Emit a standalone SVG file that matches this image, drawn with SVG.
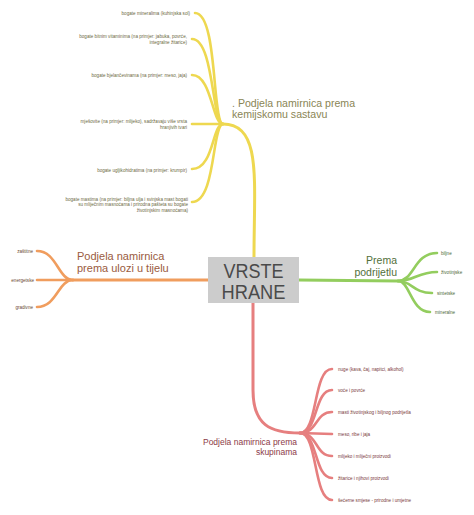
<svg xmlns="http://www.w3.org/2000/svg" width="474" height="515" viewBox="0 0 474 515">
<style>
text{font-family:"Liberation Sans",Arial,sans-serif}
.ln{fill:none;stroke-linecap:round;stroke-linejoin:round}
.y{stroke:#eed850}.o{stroke:#f09d5e}.g{stroke:#93cd5e}.r{stroke:#e67f7f}
.t{stroke-width:3}.b{stroke-width:2.6}
.s{font-size:4.6px}
.sy{fill:#6e6a44}.so{fill:#6b4a33}.sg{fill:#4f6b3a}.sr{fill:#7a3b3b}
.e{text-anchor:end}
</style>
<rect width="474" height="515" fill="#ffffff"/>
<g id="connectors">
<path class="ln y t" d="M254 257 C254 180 262 124 223 124"/>
<path class="ln y b" d="M223 124 C212 124 218 13 195 13"/>
<path class="ln y b" d="M223 124 C212 124 214 39 192 39"/>
<path class="ln y b" d="M223 124 C212 124 212 75 192 75"/>
<path class="ln y b" d="M223 124 L192 124"/>
<path class="ln y b" d="M223 124 C212 124 214 169 192 169"/>
<path class="ln y b" d="M223 124 C212 124 216 202 192 202"/>
<path class="ln o t" d="M208 280 L73 280"/>
<path class="ln o b" d="M73 280 C58 280 57 251 37 251"/>
<path class="ln o b" d="M73 280 L37 280"/>
<path class="ln o b" d="M73 280 C58 280 57 307 37 307"/>
<path class="ln g t" d="M299 280 L398 281"/>
<path class="ln g b" d="M398 281 C414 281 414 253 437 253"/>
<path class="ln g b" d="M398 281 C414 281 418 272 437 272"/>
<path class="ln g b" d="M398 281 C412 281 413 293 432 293"/>
<path class="ln g b" d="M398 281 C410 281 411 312 430 312"/>
<path class="ln r t" d="M253 303 L253 390 C253 425 270 433 300 433"/>
<path class="ln r b" d="M300 433 C318 433 313 369 332 369"/>
<path class="ln r b" d="M300 433 C318 433 314 390 332 390"/>
<path class="ln r b" d="M300 433 C318 433 315 412 332 412"/>
<path class="ln r b" d="M300 433 L332 434"/>
<path class="ln r b" d="M300 433 C318 433 315 456 332 456"/>
<path class="ln r b" d="M300 433 C318 433 314 478 332 478"/>
<path class="ln r b" d="M300 433 C318 433 313 500 332 500"/>
</g>
<g id="center">
<rect x="208" y="257" width="91" height="46" fill="#cccccc"/>
<text x="253.5" y="277.5" font-size="20" fill="#4a4a4a" text-anchor="middle" textLength="60" lengthAdjust="spacingAndGlyphs">VRSTE</text>
<text x="253.5" y="298.5" font-size="20" fill="#4a4a4a" text-anchor="middle" textLength="64" lengthAdjust="spacingAndGlyphs">HRANE</text>
</g>
<g id="kemijski">
<text x="232" y="106.5" font-size="10.6" fill="#8a8555">. Podjela namirnica prema</text>
<text x="232" y="118" font-size="10.6" fill="#8a8555">kemijskomu sastavu</text>
</g>
<g id="k1"><text class="s sy e" x="190" y="14.5">bogate mineralima (kuhinjska sol)</text></g>
<g id="k2"><text class="s sy e" x="187" y="38">bogate bitnim vitaminima (na primjer: jabuka, povrće,</text><text class="s sy e" x="187" y="44">integralne žitarice)</text></g>
<g id="k3"><text class="s sy e" x="187" y="76.5">bogate bjelančevinama (na primjer: meso, jaja)</text></g>
<g id="k4"><text class="s sy e" x="187" y="122.7">mješovite (na primjer: mlijeko), sadržavaju više vrsta</text><text class="s sy e" x="187" y="128.5">hranjivih tvari</text></g>
<g id="k5"><text class="s sy e" x="187" y="171.5">bogate ugljikohidratima (na primjer: krumpir)</text></g>
<g id="k6"><text class="s sy e" x="188" y="200.5">bogate mastima (na primjer: biljna ulja i svinjska mast bogati</text><text class="s sy e" x="188" y="206.3">su mliječnim masnoćama i prirodna pašteta su bogate</text><text class="s sy e" x="188" y="212">životinjskim masnoćama)</text></g>
<g id="ulozi">
<text x="77" y="259.5" font-size="11" fill="#9a5b3e">Podjela namirnica</text>
<text x="77" y="272" font-size="11" fill="#9a5b3e">prema ulozi u tijelu</text>
</g>
<g id="u1"><text class="s so e" x="33" y="252.5">zaštitne</text></g>
<g id="u2"><text class="s so e" x="34" y="281.5">energetske</text></g>
<g id="u3"><text class="s so e" x="33" y="308.5">gradivne</text></g>
<g id="podrijetlo">
<text x="397" y="264" font-size="10.5" fill="#52703a" text-anchor="end">Prema</text>
<text x="397" y="275.5" font-size="10.5" fill="#52703a" text-anchor="end">podrijetlu</text>
</g>
<g id="p1"><text class="s sg" x="441" y="254.5">biljne</text></g>
<g id="p2"><text class="s sg" x="441" y="273.5">životinjske</text></g>
<g id="p3"><text class="s sg" x="437" y="294.5">sintetske</text></g>
<g id="p4"><text class="s sg" x="435" y="313.5">mineralne</text></g>
<g id="skupine">
<text x="297" y="445" font-size="8.5" fill="#8c3b47" text-anchor="end">Podjela namirnica prema</text>
<text x="297" y="454.5" font-size="8.5" fill="#8c3b47" text-anchor="end">skupinama</text>
</g>
<g id="s1"><text class="s sr" x="338" y="370.5">nuge (kava, čaj, napitci, alkohol)</text></g>
<g id="s2"><text class="s sr" x="338" y="391.5">voće i povrće</text></g>
<g id="s3"><text class="s sr" x="338" y="413.5">masti životinjskog i biljnog podrijetla</text></g>
<g id="s4"><text class="s sr" x="338" y="435.5">meso, ribe i jaja</text></g>
<g id="s5"><text class="s sr" x="338" y="457.5">mlijeko i mliječni proizvodi</text></g>
<g id="s6"><text class="s sr" x="338" y="479.5">žitarice i njihovi proizvodi</text></g>
<g id="s7"><text class="s sr" x="338" y="501.5">šećerne smjese - prirodne i umjetne</text></g>
</svg>
